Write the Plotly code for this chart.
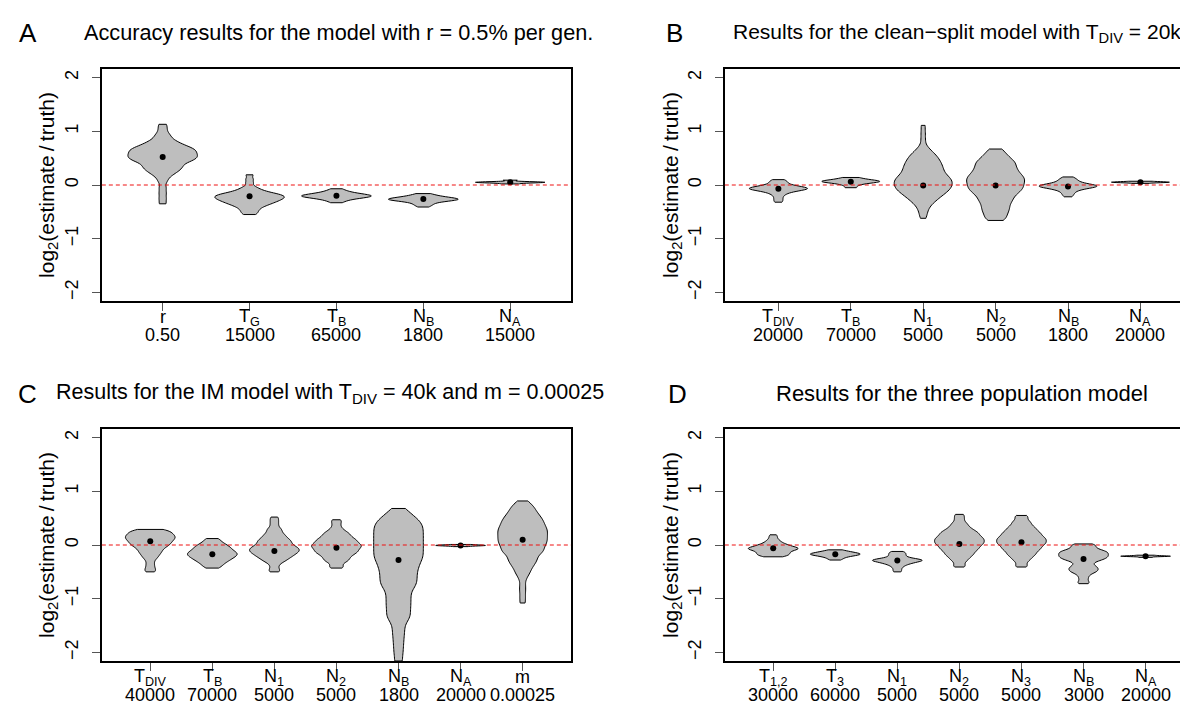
import plotly.graph_objects as go

FONT = "Liberation Sans, Arial, Helvetica, sans-serif"
W, H = 1188, 703

# ---------------- Panel A ----------------
A_sym = ["r", "T<sub>G</sub>", "T<sub>B</sub>", "N<sub>B</sub>", "N<sub>A</sub>"]
A_truth = ["0.50", "15000", "65000", "1800", "15000"]
A_r = [-0.35, -0.25, -0.15, -0.05, 0.06, 0.13, 0.18, 0.215, 0.24, 0.26, 0.285, 0.305, 0.32, 0.34,
       0.355, 0.37, 0.39, 0.415, 0.43, 0.44, 0.45, 0.46, 0.475, 0.485, 0.495, 0.505, 0.515, 0.525,
       0.535, 0.545, 0.555, 0.565, 0.575, 0.585, 0.595, 0.61, 0.62, 0.63, 0.64, 0.65, 0.66, 0.67,
       0.68, 0.69, 0.71, 0.72, 0.73, 0.75, 0.77, 0.79, 0.81, 0.84, 0.88, 0.92, 0.97, 1.05, 1.13]
A_TG = [0.19, 0.11, 0.04, -0.03, -0.065, -0.09, -0.11, -0.125, -0.14, -0.154, -0.162, -0.17, -0.178,
        -0.186, -0.194, -0.203, -0.21, -0.217, -0.224, -0.231, -0.238, -0.245, -0.254, -0.262,
        -0.27, -0.279, -0.287, -0.295, -0.305, -0.315, -0.326, -0.337, -0.348, -0.36, -0.375,
        -0.39, -0.41, -0.43, -0.46, -0.485, -0.52, -0.55]
A_TB = [-0.33, -0.30, -0.28, -0.26, -0.25, -0.24, -0.23, -0.225, -0.22, -0.215, -0.21, -0.205,
        -0.20, -0.195, -0.19, -0.185, -0.18, -0.17, -0.16, -0.15, -0.14, -0.12, -0.10, -0.07]
A_NB = [-0.41, -0.38, -0.36, -0.34, -0.32, -0.31, -0.30, -0.29, -0.285, -0.28, -0.275, -0.27,
        -0.265, -0.26, -0.255, -0.25, -0.245, -0.24, -0.23, -0.22, -0.21, -0.20, -0.18, -0.16]
A_NA = [0.02, 0.04, 0.045, 0.05, 0.05, 0.055, 0.06, 0.09]
A_med = [0.52, -0.21, -0.20, -0.26, 0.05]
A_bw = [0.05, 0.033, 0.03, 0.025, 0.01]

# ---------------- Panel B ----------------
B_sym = ["T<sub>DIV</sub>", "T<sub>B</sub>", "N<sub>1</sub>", "N<sub>2</sub>", "N<sub>B</sub>", "N<sub>A</sub>"]
B_truth = ["20000", "70000", "5000", "5000", "1800", "20000"]
B_TDIV = [-0.32, -0.28, -0.24, -0.20, -0.17, -0.15, -0.13, -0.12, -0.11, -0.10, -0.09, -0.085,
          -0.08, -0.075, -0.07, -0.065, -0.06, -0.055, -0.05, -0.045, -0.04, -0.03, -0.02, -0.01,
          0.00, 0.02, 0.04, 0.06, 0.08, 0.10]
B_TB = [-0.05, 0.00, 0.03, 0.05, 0.06, 0.06, 0.07, 0.08, 0.09, 0.11, 0.14]
B_N1 = [1.11, 0.97, 0.84, 0.71, 0.665, 0.625, 0.59, 0.57, 0.55, 0.53, 0.51, 0.49, 0.47, 0.455,
        0.44, 0.42, 0.405, 0.39, 0.375, 0.36, 0.345, 0.33, 0.315, 0.30, 0.29, 0.275, 0.26, 0.245,
        0.23, 0.215, 0.20, 0.19, 0.18, 0.168, 0.156, 0.144, 0.132, 0.12, 0.11, 0.10, 0.095, 0.085,
        0.075, 0.065, 0.055, 0.045, 0.035, 0.025, 0.015, 0.005, -0.005, -0.015, -0.025, -0.035,
        -0.045, -0.055, -0.065, -0.075, -0.085, -0.095, -0.105, -0.118, -0.131, -0.144, -0.157,
        -0.17, -0.183, -0.196, -0.21, -0.23, -0.25, -0.27, -0.29, -0.31, -0.34, -0.37, -0.42,
        -0.47, -0.54, -0.62]
B_N2 = [0.67, 0.60, 0.55, 0.51, 0.47, 0.44, 0.415, 0.39, 0.36, 0.33, 0.305, 0.28, 0.255, 0.23, 0.205,
        0.185, 0.165, 0.145, 0.125, 0.105, 0.09, 0.07, 0.05, 0.03, 0.01, -0.01, -0.03, -0.05, -0.07,
        -0.09, -0.11, -0.135, -0.16, -0.185, -0.215, -0.25, -0.28, -0.31, -0.35, -0.39, -0.43,
        -0.47, -0.51, -0.56, -0.61, -0.66]
B_NB = [-0.22, -0.18, -0.15, -0.12, -0.10, -0.08, -0.07, -0.06, -0.05, -0.04, -0.035, -0.03, -0.025,
        -0.02, -0.015, -0.01, -0.005, 0.00, 0.01, 0.02, 0.03, 0.045, 0.06, 0.08, 0.10, 0.12, 0.15]
B_NA = [0.03, 0.045, 0.05, 0.05, 0.055, 0.06, 0.07]
B_med = [-0.07, 0.06, -0.01, -0.01, -0.03, 0.05]
B_bw = [0.03, 0.025, 0.07, 0.06, 0.03, 0.008]

# ---------------- Panel C ----------------
C_sym = ["T<sub>DIV</sub>", "T<sub>B</sub>", "N<sub>1</sub>", "N<sub>2</sub>", "N<sub>B</sub>", "N<sub>A</sub>", "m"]
C_truth = ["40000", "70000", "5000", "5000", "1800", "20000", "0.00025"]
C_TDIV = [0.29, 0.285, 0.275, 0.265, 0.255, 0.245, 0.235, 0.225, 0.215, 0.205, 0.194, 0.186, 0.178,
          0.17, 0.162, 0.154, 0.144, 0.136, 0.128, 0.12, 0.112, 0.104, 0.095, 0.085, 0.075, 0.065,
          0.055, 0.045, 0.035, 0.025, 0.015, 0.005, -0.006, -0.018, -0.031, -0.044, -0.058, -0.075,
          -0.092, -0.11, -0.13, -0.145, -0.165, -0.19, -0.215, -0.24, -0.275, -0.33, -0.38, -0.43,
          -0.47, -0.50]
C_TB = [0.12, 0.10, 0.07, 0.04, 0.025, 0.01, -0.01, -0.022, -0.035, -0.046, -0.057, -0.07, -0.083,
        -0.096, -0.105, -0.115, -0.125, -0.135, -0.145, -0.154, -0.162, -0.17, -0.178, -0.186,
        -0.194, -0.205, -0.215, -0.225, -0.235, -0.245, -0.256, -0.269, -0.281, -0.294, -0.308,
        -0.325, -0.342, -0.36, -0.385, -0.41, -0.43]
C_N1 = [0.52, 0.47, 0.42, 0.37, 0.32, 0.29, 0.265, 0.235, 0.21, 0.19, 0.17, 0.155, 0.135, 0.12,
        0.105, 0.092, 0.08, 0.068, 0.055, 0.044, 0.031, 0.018, 0.006, -0.005, -0.015, -0.025, -0.035,
        -0.045, -0.054, -0.062, -0.07, -0.078, -0.086, -0.094, -0.104, -0.112, -0.12, -0.128, -0.136,
        -0.144, -0.155, -0.165, -0.175, -0.185, -0.195, -0.206, -0.219, -0.231, -0.244, -0.258,
        -0.275, -0.292, -0.31, -0.335, -0.375, -0.425, -0.47, -0.50]
C_N2 = [0.47, 0.43, 0.38, 0.33, 0.29, 0.265, 0.24, 0.222, 0.205, 0.192, 0.175, 0.158, 0.144, 0.131,
        0.119, 0.106, 0.095, 0.085, 0.075, 0.065, 0.055, 0.041, 0.032, 0.023, 0.014, 0.005, -0.004,
        -0.012, -0.02, -0.029, -0.037, -0.046, -0.055, -0.065, -0.075, -0.085, -0.095, -0.105,
        -0.115, -0.125, -0.135, -0.145, -0.156, -0.169, -0.181, -0.194, -0.208, -0.225, -0.242,
        -0.258, -0.275, -0.292, -0.31, -0.335, -0.375, -0.41, -0.43]
C_NB = [0.68, 0.61, 0.56, 0.52, 0.485, 0.455, 0.43, 0.40, 0.375, 0.35, 0.325, 0.30, 0.275, 0.25,
        0.225, 0.20, 0.175, 0.15, 0.125, 0.10, 0.075, 0.05, 0.025, 0.00, -0.025, -0.05, -0.075,
        -0.10, -0.125, -0.15, -0.175, -0.20, -0.225, -0.25, -0.275, -0.30, -0.33, -0.36, -0.39,
        -0.42, -0.45, -0.48, -0.52, -0.55, -0.58, -0.62, -0.65, -0.68, -0.72, -0.75, -0.78, -0.83,
        -0.87, -0.93, -0.97, -1.03, -1.07, -1.13, -1.17, -1.23, -1.28, -1.33, -1.38, -1.45, -1.55,
        -1.65, -1.76, -1.88, -2.01, -2.16]
C_NA = [-0.03, -0.015, -0.01, -0.01, -0.005, 0.00, 0.01]
C_m = [0.82, 0.78, 0.74, 0.71, 0.69, 0.665, 0.64, 0.615, 0.595, 0.577, 0.558, 0.54, 0.522, 0.503,
       0.49, 0.475, 0.46, 0.445, 0.43, 0.415, 0.40, 0.388, 0.374, 0.36, 0.346, 0.332, 0.318, 0.304,
       0.295, 0.283, 0.27, 0.258, 0.245, 0.233, 0.22, 0.208, 0.195, 0.183, 0.17, 0.158, 0.145, 0.133,
       0.12, 0.108, 0.095, 0.083, 0.07, 0.058, 0.045, 0.033, 0.02, 0.008, -0.005, -0.02, -0.035,
       -0.05, -0.065, -0.08, -0.095, -0.105, -0.12, -0.135, -0.15, -0.165, -0.18, -0.21, -0.23,
       -0.25, -0.27, -0.29, -0.31, -0.335, -0.36, -0.385, -0.415, -0.45, -0.485, -0.53, -0.57,
       -0.65, -0.76, -0.86, -0.97, -1.08]
C_med = [0.07, -0.17, -0.11, -0.05, -0.28, -0.01, 0.10]
C_bw = [0.04, 0.04, 0.035, 0.035, 0.08, 0.008, 0.06]

# ---------------- Panel D ----------------
D_sym = ["T<sub>1,2</sub>", "T<sub>3</sub>", "N<sub>1</sub>", "N<sub>2</sub>", "N<sub>3</sub>", "N<sub>B</sub>", "N<sub>A</sub>"]
D_truth = ["30000", "60000", "5000", "5000", "5000", "3000", "20000"]
D_T12 = [0.19, 0.15, 0.11, 0.08, 0.06, 0.04, 0.02, 0.01, 0.00, -0.01, -0.02, -0.03, -0.04, -0.05,
         -0.05, -0.06, -0.06, -0.07, -0.07, -0.08, -0.08, -0.09, -0.10, -0.11, -0.12, -0.13, -0.14,
         -0.15, -0.16, -0.17, -0.18, -0.19, -0.20, -0.21, -0.22]
D_T3 = [-0.28, -0.26, -0.24, -0.22, -0.21, -0.20, -0.19, -0.185, -0.18, -0.175, -0.17, -0.165,
        -0.16, -0.155, -0.15, -0.14, -0.13, -0.12, -0.11, -0.09]
D_N1 = [-0.50, -0.46, -0.42, -0.39, -0.37, -0.35, -0.34, -0.33, -0.32, -0.31, -0.30, -0.295, -0.29,
        -0.285, -0.28, -0.275, -0.27, -0.26, -0.25, -0.24, -0.22, -0.20, -0.18, -0.16, -0.14, -0.12]
D_N2 = [0.57, 0.52, 0.47, 0.42, 0.39, 0.36, 0.335, 0.31, 0.292, 0.275, 0.258, 0.244, 0.231, 0.219,
        0.206, 0.194, 0.181, 0.169, 0.156, 0.145, 0.135, 0.125, 0.115, 0.105, 0.095, 0.085, 0.075,
        0.065, 0.055, 0.045, 0.035, 0.025, 0.015, 0.005, -0.006, -0.019, -0.031, -0.044, -0.056,
        -0.069, -0.081, -0.094, -0.108, -0.125, -0.142, -0.158, -0.175, -0.192, -0.21, -0.235,
        -0.26, -0.285, -0.325, -0.375, -0.41]
D_N3 = [0.55, 0.52, 0.475, 0.44, 0.415, 0.39, 0.365, 0.342, 0.325, 0.308, 0.292, 0.275, 0.258,
        0.244, 0.231, 0.219, 0.206, 0.194, 0.181, 0.169, 0.156, 0.145, 0.135, 0.125, 0.115, 0.105,
        0.095, 0.085, 0.075, 0.065, 0.055, 0.045, 0.035, 0.025, 0.015, 0.005, -0.006, -0.019,
        -0.031, -0.044, -0.056, -0.069, -0.081, -0.094, -0.108, -0.125, -0.142, -0.158, -0.175,
        -0.192, -0.21, -0.235, -0.26, -0.285, -0.325, -0.375, -0.41]
D_NB = [0.02, 0.005, -0.015, -0.035, -0.058, -0.075, -0.092, -0.105, -0.115, -0.125, -0.135, -0.145,
        -0.155, -0.165, -0.175, -0.185, -0.195, -0.205, -0.215, -0.225, -0.235, -0.245, -0.256,
        -0.269, -0.281, -0.294, -0.315, -0.34, -0.365, -0.39, -0.408, -0.425, -0.442, -0.458,
        -0.475, -0.492, -0.51, -0.535, -0.575, -0.625, -0.68, -0.72]
D_NA = [-0.23, -0.215, -0.21, -0.21, -0.205, -0.20, -0.19]
D_med = [-0.06, -0.17, -0.29, 0.02, 0.05, -0.26, -0.21]
D_bw = [0.03, 0.025, 0.025, 0.035, 0.035, 0.03, 0.006]

Y_TICKS = [-2, -1, 0, 1, 2]
Y_TICKTEXT = ["\u22122", "\u22121", "0", "1", "2"]

panels = [
    dict(letter="A", title="Accuracy results for the model with r = 0.5% per gen.", tsize=21.7,
         sym=A_sym, truth=A_truth, samples=[A_r, A_TG, A_TB, A_NB, A_NA], med=A_med, bw=A_bw,
         px_x=(94, 564), px_y=(61, 293), letter_x=20, title_x=331, head_y=25, ylab_x=40),
    dict(letter="B", title="Results for the clean\u2212split model with T<sub>DIV</sub> = 20k", tsize=21,
         sym=B_sym, truth=B_truth, samples=[B_TDIV, B_TB, B_N1, B_N2, B_NB, B_NA], med=B_med, bw=B_bw,
         px_x=(718, 1188), px_y=(61, 293), letter_x=668, title_x=951, head_y=25, ylab_x=665),
    dict(letter="C", title="Results for the IM model with T<sub>DIV</sub> = 40k and m = 0.00025", tsize=21.5,
         sym=C_sym, truth=C_truth, samples=[C_TDIV, C_TB, C_N1, C_N2, C_NB, C_NA, C_m], med=C_med, bw=C_bw,
         px_x=(94, 564), px_y=(421, 653), letter_x=20, title_x=323, head_y=386, ylab_x=40),
    dict(letter="D", title="Results for the three population model", tsize=22,
         sym=D_sym, truth=D_truth, samples=[D_T12, D_T3, D_N1, D_N2, D_N3, D_NB, D_NA], med=D_med, bw=D_bw,
         px_x=(718, 1188), px_y=(421, 653), letter_x=671, title_x=956, head_y=386, ylab_x=665),
]

fig = go.Figure()
annotations = []
shapes = []
layout_axes = {}

for i, p in enumerate(panels):
    k = "" if i == 0 else str(i + 1)
    xa, ya = "x" + k, "y" + k
    n = len(p["sym"])
    pos = list(range(1, n + 1))
    for j, (s, bw) in enumerate(zip(p["samples"], p["bw"])):
        fig.add_trace(go.Violin(
            y=s, x0=pos[j], xaxis=xa, yaxis=ya, width=0.8, bandwidth=bw,
            spanmode="hard", scalemode="width", points=False,
            box=dict(visible=False), meanline=dict(visible=False),
            fillcolor="#bebebe", line=dict(color="black", width=1),
            showlegend=False, hoverinfo="skip", orientation="v"))
    fig.add_trace(go.Scatter(
        x=pos, y=p["med"], mode="markers", xaxis=xa, yaxis=ya,
        marker=dict(color="black", size=6), showlegend=False, hoverinfo="skip"))

    x0p, x1p = p["px_x"]
    y0p, y1p = p["px_y"]
    axis_common = dict(showline=True, mirror=True, linecolor="black", linewidth=2,
                       showgrid=False, zeroline=False, ticks="outside", ticklen=8,
                       tickcolor="#555555", tickwidth=1, fixedrange=True)
    layout_axes["xaxis" + k] = dict(axis_common, domain=[x0p / W, x1p / W],
                                    range=[0.5 - 0.04 * n, n + 0.5 + 0.04 * n],
                                    tickvals=pos, showticklabels=False, anchor=ya)
    layout_axes["yaxis" + k] = dict(axis_common, domain=[1 - y1p / H, 1 - y0p / H],
                                    range=[-2.16, 2.16], tickvals=Y_TICKS, ticktext=Y_TICKTEXT,
                                    tickangle=-90, tickfont=dict(size=18, color="black", family=FONT),
                                    ticklabelstandoff=7, anchor=xa)

    # zero reference line (drawn over the violins)
    shapes.append(dict(type="line", xref=xa + " domain", yref=ya, x0=0, x1=1, y0=0, y1=0,
                       line=dict(color="#ee1111", width=1, dash="4px,3px"), layer="above"))

    # x tick label rows: parameter symbol and true value
    for j in range(n):
        annotations.append(dict(x=pos[j], y=0, xref=xa, yref=ya + " domain", text=p["sym"][j],
                                showarrow=False, xanchor="center", yanchor="middle", yshift=-16,
                                font=dict(size=18, color="black", family=FONT)))
        annotations.append(dict(x=pos[j], y=0, xref=xa, yref=ya + " domain", text=p["truth"][j],
                                showarrow=False, xanchor="center", yanchor="middle", yshift=-34,
                                font=dict(size=18, color="black", family=FONT)))

    # y axis title
    annotations.append(dict(x=p["ylab_x"] / W, y=1 - ((y0p + y1p) / 2) / H, xref="paper", yref="paper",
                            text="log<sub>2</sub>(estimate\u2009/\u2009truth)", textangle=-90,
                            showarrow=False, xanchor="center", yanchor="middle",
                            font=dict(size=21, color="black", family=FONT)))
    # panel letter and title
    annotations.append(dict(x=p["letter_x"] / W, y=1 - p["head_y"] / H, xref="paper", yref="paper",
                            text=p["letter"], showarrow=False, xanchor="center", yanchor="middle",
                            font=dict(size=26, color="black", family=FONT)))
    annotations.append(dict(x=p["title_x"] / W, y=1 - p["head_y"] / H, xref="paper", yref="paper",
                            text=p["title"], showarrow=False, xanchor="center", yanchor="middle",
                            font=dict(size=p["tsize"], color="black", family=FONT)))

fig.update_layout(
    width=W, height=H, margin=dict(l=0, r=0, t=0, b=0),
    paper_bgcolor="white", plot_bgcolor="white",
    violinmode="overlay", showlegend=False,
    font=dict(family=FONT, color="black"),
    annotations=annotations, shapes=shapes,
    **layout_axes)

fig.write_html("out.html")
